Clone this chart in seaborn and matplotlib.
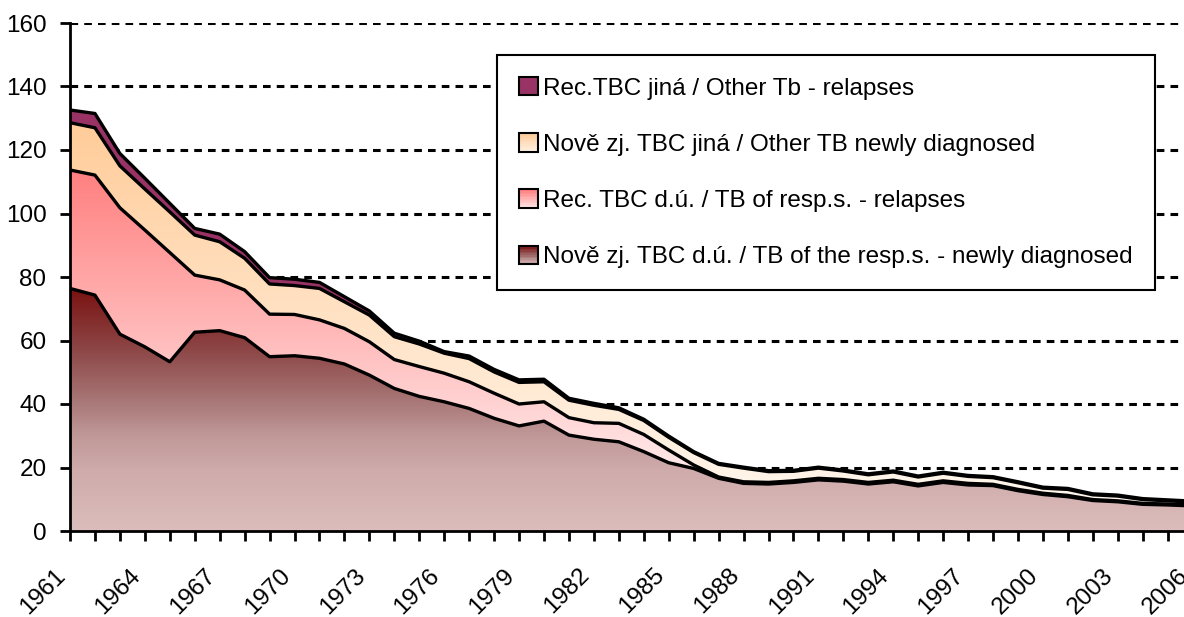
import numpy as np
import pandas as pd
import matplotlib
matplotlib.use("Agg")
import matplotlib.pyplot as plt
import seaborn as sns
from matplotlib import transforms
from matplotlib.colors import LinearSegmentedColormap
from matplotlib.patches import Rectangle
from matplotlib.legend_handler import HandlerBase

# roky 1961-2006
years = list(range(1961, 2007))

# Nově zj. TBC d.ú. (spodní vrstva)
resp_new = [76.4, 74.3, 62.0, 58.0, 53.3, 62.6, 63.1, 60.9, 54.9, 55.2,
            54.4, 52.6, 49.1, 44.9, 42.4, 40.7, 38.6, 35.5, 33.1, 34.6,
            30.2, 28.9, 28.1, 25.0, 21.5, 19.7, 16.6, 15.0, 14.8, 15.3,
            16.1, 15.7, 14.8, 15.5, 14.2, 15.3, 14.5, 14.3, 12.7, 11.5,
            10.8, 9.6, 9.2, 8.4, 8.2, 7.9]
# Rec. TBC d.ú.
resp_rel = [37.3, 37.8, 39.8, 36.8, 34.4, 18.0, 16.0, 15.0, 13.4, 13.0,
            12.1, 11.2, 10.5, 9.1, 9.4, 9.0, 8.4, 7.9, 6.9, 6.1,
            5.5, 5.2, 5.8, 5.4, 4.0, 1.1, 0.4, 0.5, 0.5, 0.5,
            0.5, 0.5, 0.5, 0.5, 0.5, 0.5, 0.5, 0.4, 0.4, 0.4,
            0.4, 0.3, 0.3, 0.3, 0.3, 0.3]
# Nově zj. TBC jiná
other_new = [14.9, 14.9, 13.2, 12.9, 12.8, 12.6, 12.0, 10.0, 9.5, 9.1,
             9.9, 8.4, 8.4, 7.2, 7.1, 6.3, 7.3, 6.7, 6.8, 6.3,
             5.5, 5.5, 4.4, 4.4, 4.0, 3.9, 4.0, 4.3, 3.4, 3.0,
             3.2, 2.7, 2.4, 2.6, 2.3, 2.4, 2.2, 2.1, 2.1, 1.6,
             1.9, 1.5, 1.5, 1.2, 1.0, 0.9]
# Rec.TBC jiná
other_rel = [4.0, 4.5, 3.9, 3.4, 2.7, 2.1, 2.4, 2.1, 2.0, 2.0,
             1.9, 1.6, 1.3, 1.1, 0.9, 0.5, 0.8, 0.8, 0.8, 0.8,
             0.6, 0.6, 0.5, 0.4, 0.4, 0.3, 0.3, 0.3, 0.3, 0.3,
             0.3, 0.3, 0.3, 0.3, 0.3, 0.3, 0.3, 0.3, 0.3, 0.3,
             0.3, 0.3, 0.3, 0.3, 0.3, 0.3]

labels = ["Nově zj. TBC d.ú. / TB of the resp.s. - newly diagnosed",
          "Rec. TBC d.ú. / TB of resp.s. - relapses",
          "Nově zj. TBC jiná / Other TB newly diagnosed",
          "Rec.TBC jiná / Other Tb - relapses"]

# přechody barev (odspodu nahoru)
cmaps = [
    LinearSegmentedColormap.from_list("rn", [(0, "#dcbcbc"), (0.25, "#cfabab"), (0.4, "#bf9797"),
                                             (0.55, "#a67373"), (0.75, "#8d4646"), (1, "#7a1111")]),
    LinearSegmentedColormap.from_list("rr", ["#ffffff", "#ff8080"]),
    LinearSegmentedColormap.from_list("on", ["#fffaf4", "#ffcc99"]),
    LinearSegmentedColormap.from_list("or", ["#993366", "#993366"]),
]

FS = 17.5

sns.set_theme(style="white")
plt.rcParams['font.family'] = ['Liberation Sans Narrow', 'Liberation Sans', 'DejaVu Sans']

fig = plt.figure(figsize=(11.84, 6.17), dpi=100)
ax = fig.add_axes([70 / 1184, 86 / 617, 1122.6 / 1184, 508 / 617])

stack = np.vstack([resp_new, resp_rel, other_new, other_rel]).cumsum(axis=0)
grad = np.linspace(0, 1, 256).reshape(-1, 1)
for i in range(4):
    base = stack[i - 1] if i else np.zeros(len(years))
    poly = ax.fill_between(years, base, stack[i], facecolor="none", edgecolor="none", zorder=2)
    im = ax.imshow(grad, extent=[years[0], years[-1], 0, stack[i].max()], origin="lower",
                   aspect="auto", cmap=cmaps[i], interpolation="bilinear", zorder=2)
    im.set_clip_path(poly.get_paths()[0], ax.transData)

# obrysy vrstev
df_lines = pd.DataFrame({"year": years * 4,
                         "value": stack.ravel(),
                         "layer": np.repeat(range(4), len(years))})
sns.lineplot(data=df_lines, x="year", y="value", units="layer", estimator=None,
             color="black", lw=2.4, ax=ax, zorder=3)

ax.set_xlim(years[0], years[-1])
ax.set_ylim(0, 160)
ax.set_xlabel("")
ax.set_ylabel("")

ax.set_yticks(range(0, 161, 20))
ax.set_axisbelow(True)
ax.yaxis.grid(True, color="black", linestyle=(0, (2.5, 2.0)), lw=2.2)
ax.xaxis.grid(False)

ax.set_xticks(years)
ax.set_xticklabels([str(y) if (y - years[0]) % 3 == 0 else "" for y in years],
                   rotation=45, ha="right")
shift = transforms.ScaledTranslation(-8 / 100, 0, fig.dpi_scale_trans)
for lab in ax.get_xticklabels():
    lab.set_transform(lab.get_transform() + shift)

ax.tick_params(axis="both", direction="out", length=7, width=2, color="black",
               labelsize=FS, labelcolor="black", bottom=True, left=True)
ax.tick_params(axis="x", pad=17)
ax.tick_params(axis="y", pad=10)

for side in ["top", "right"]:
    ax.spines[side].set_visible(False)
for side in ["left", "bottom"]:
    ax.spines[side].set_color("black")
    ax.spines[side].set_linewidth(2)
    ax.spines[side].set_zorder(4)


class GradientHandler(HandlerBase):
    def create_artists(self, legend, orig_handle, xdescent, ydescent, width, height, fontsize, trans):
        cmap = orig_handle.cmap_
        n = 12
        arts = []
        for k in range(n):
            t = 1 - k / n
            arts.append(Rectangle((-xdescent, -ydescent + height * (n - k - 1) / n), width, height / n,
                                  facecolor=cmap(0.15 + 0.85 * t), edgecolor="none", transform=trans))
        arts.append(Rectangle((-xdescent, -ydescent), width, height, facecolor="none",
                              edgecolor="black", lw=1.5, transform=trans))
        return arts


handles = []
for i in range(4):
    h = Rectangle((0, 0), 1, 1)
    h.cmap_ = cmaps[i]
    handles.append(h)

leg = ax.legend(handles[::-1], labels[::-1], handler_map={Rectangle: GradientHandler()},
                loc="upper left", bbox_to_anchor=(497 / 1184, 1 - 55 / 617),
                bbox_transform=fig.transFigure, borderaxespad=0, fontsize=FS,
                handlelength=0.8, handleheight=0.8, handletextpad=0.2,
                labelspacing=1.38, borderpad=0.9, fancybox=False, framealpha=1)
leg.get_frame().set_edgecolor("black")
leg.get_frame().set_linewidth(1.5)
for t in leg.get_texts():
    t.set_color("black")

fig.savefig("out.png", dpi=100)
